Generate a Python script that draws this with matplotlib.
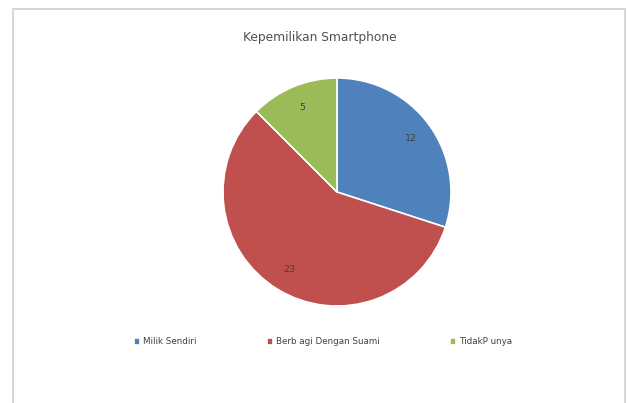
import numpy as np
import matplotlib.pyplot as plt
from matplotlib.patches import Rectangle

categories = ["Milik Sendiri", "Berb agi Dengan Suami", "TidakP unya"]
counts = [12, 23, 5]
colors = ["#4F81BD", "#C0504D", "#9BBB59"]

W, H = 627, 403
fig = plt.figure(figsize=(W / 100, H / 100), dpi=100)
fig.patch.set_facecolor("white")

# chart area frame
fig.patches.append(Rectangle((13 / W, -0.05), (625 - 13) / W, (H - 9) / H + 0.05,
                             transform=fig.transFigure, fill=False,
                             edgecolor="#D0D0D0", linewidth=1.2))

cx, cy, r = 337, 192, 114
ax = fig.add_axes([(cx - r) / W, (H - cy - r) / H, 2 * r / W, 2 * r / H])
wedges, texts = ax.pie(counts, colors=colors, startangle=90, counterclock=False,
                       wedgeprops=dict(edgecolor="white", linewidth=1.2))[:2]
for w, v in zip(wedges, counts):
    ang = np.deg2rad((w.theta1 + w.theta2) / 2)
    ax.text(0.8 * np.cos(ang), 0.8 * np.sin(ang), str(v), ha="center", va="center",
            fontsize=6.8, color="#404040")
ax.set_xlim(-1, 1)
ax.set_ylim(-1, 1)
ax.axis("off")

fig.text(320 / W, 1 - 38 / H, "Kepemilikan Smartphone", ha="center", va="center",
         fontsize=8.8, color="#505050")

fig.legend(wedges, categories, loc="center", bbox_to_anchor=(323 / W, 1 - 342 / H),
           ncol=3, frameon=False, fontsize=6.3, handlelength=0.7, handleheight=0.7,
           handletextpad=0.35, columnspacing=8.0, labelcolor="#404040")

fig.savefig("out.png", dpi=100)
